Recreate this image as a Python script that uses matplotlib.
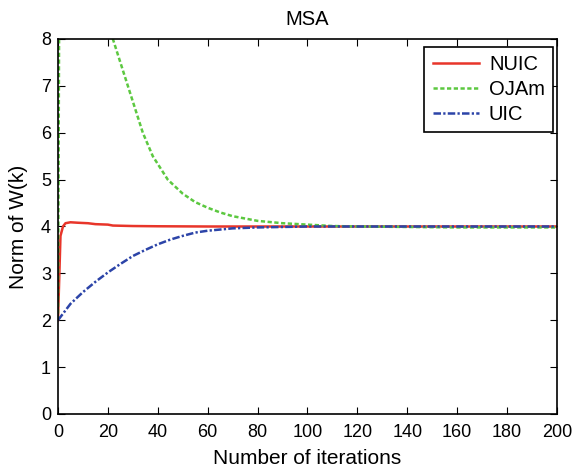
import matplotlib
matplotlib.use("Agg")
import matplotlib.pyplot as plt

plt.rcParams['font.family'] = ['Liberation Sans', 'DejaVu Sans']

# NUIC
nuic_k = [0, 1, 2, 3, 5, 8, 12, 15, 20, 22, 26, 30, 40, 60, 80, 100, 120, 140, 160, 180, 200]
nuic_v = [2.0, 3.8, 4.0, 4.07, 4.09, 4.08, 4.07, 4.05, 4.04, 4.02, 4.015, 4.01, 4.005, 4.0, 4.0, 4.0, 4.0, 4.0, 4.0, 4.0, 4.0]

# OJAm
oja_k = [0, 1, 5, 10, 15, 20, 22, 25, 28, 31, 34, 38, 44, 50, 55, 60, 65, 70, 75, 80, 90, 100, 110, 120, 140, 160, 180, 200]
oja_v = [2.0, 16.0, 13.0, 11.0, 9.6, 8.5, 8.0, 7.5, 7.0, 6.5, 6.0, 5.5, 5.0, 4.7, 4.52, 4.4, 4.3, 4.22, 4.17, 4.12, 4.07, 4.04, 4.01, 4.0, 3.99, 3.98, 3.98, 3.98]

# UIC
uic_k = [0, 5, 10, 15, 20, 25, 30, 35, 40, 45, 50, 55, 60, 70, 80, 90, 100, 120, 140, 160, 180, 200]
uic_v = [2.0, 2.35, 2.6, 2.82, 3.02, 3.2, 3.37, 3.5, 3.62, 3.72, 3.8, 3.87, 3.91, 3.96, 3.98, 3.99, 4.0, 4.0, 4.0, 4.0, 4.0, 4.0]

xticks = list(range(0, 201, 20))
yticks = list(range(0, 9))

fig = plt.figure(figsize=(5.77, 4.67), dpi=100)
ax = fig.add_axes([0.1005, 0.1135, 0.8648, 0.803])

ax.plot(nuic_k, nuic_v, '-', color='#e8352a', lw=1.8, label='NUIC')
ax.plot(oja_k, oja_v, color='#5cc840', lw=1.8, dashes=(1.7, 1.0), label='OJAm')
ax.plot(uic_k, uic_v, color='#2c44a8', lw=1.8, dashes=(3.0, 0.9, 0.9, 0.9), label='UIC')

ax.set_xlim(0, 200)
ax.set_ylim(0, 8)
ax.set_xticks(xticks)
ax.set_yticks(yticks)
ax.tick_params(axis='x', direction='in', top=True, labelsize=13, length=5, width=0.8, pad=7)
ax.tick_params(axis='y', direction='in', right=True, labelsize=13, length=5, width=0.8, pad=5)
for s in ax.spines.values():
    s.set_linewidth(1.2)

ax.set_title('MSA', fontsize=14.5, pad=10)
ax.set_xlabel('Number of iterations', fontsize=15, labelpad=6)
ax.set_ylabel('Norm of W(k)', fontsize=15, labelpad=9)

leg = ax.legend(loc='upper right', fontsize=14.5, fancybox=False, framealpha=1,
                edgecolor='black', handlelength=2.3, handletextpad=0.5,
                borderpad=0.4, labelspacing=0.3, borderaxespad=0,
                bbox_to_anchor=(0.992, 0.979))
leg.get_frame().set_linewidth(1.2)

fig.savefig('out.png', dpi=100)
